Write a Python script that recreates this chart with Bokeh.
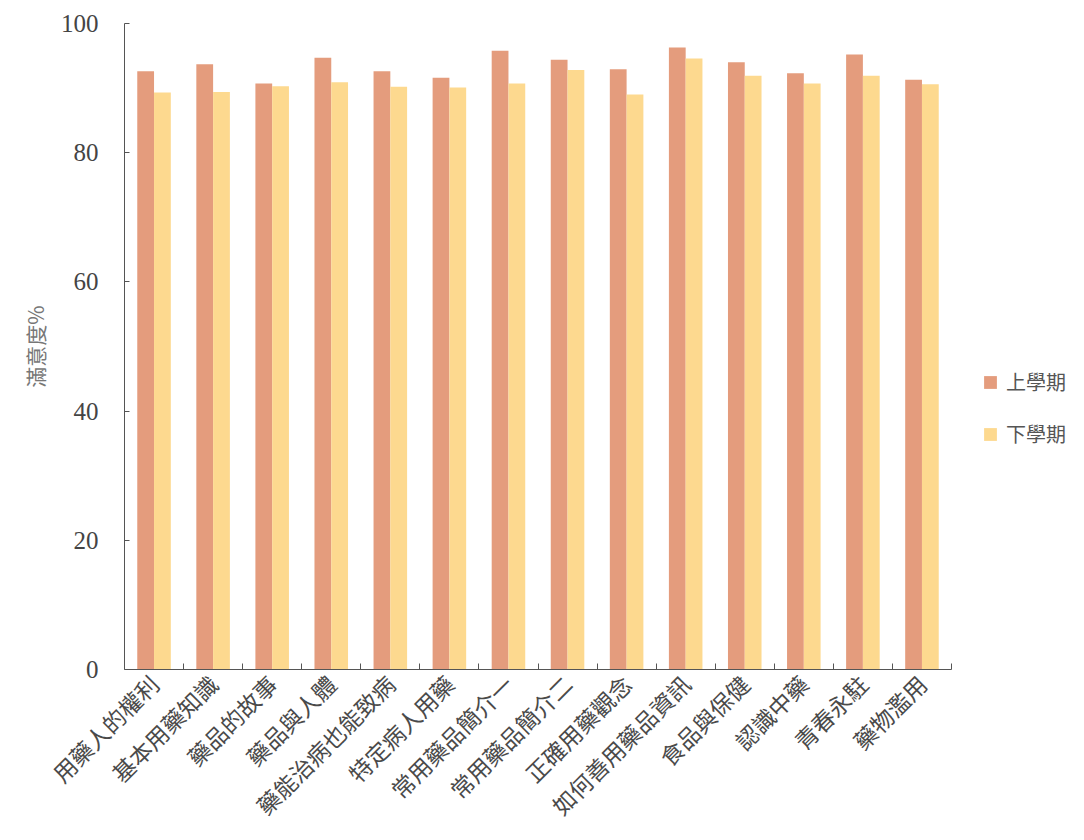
import math
from bokeh.plotting import figure
from bokeh.models import ColumnDataSource, FixedTicker, Legend, LegendItem, Range1d
from bokeh.transform import dodge
from bokeh.embed import file_html
from bokeh.resources import INLINE

categories = ["用藥人的權利", "基本用藥知識", "藥品的故事", "藥品與人體", "藥能治病也能致病",
              "特定病人用藥", "常用藥品簡介一", "常用藥品簡介二", "正確用藥觀念",
              "如何善用藥品資訊", "食品與保健", "認識中藥", "青春永駐", "藥物濫用"]
first_term = [92.6, 93.7, 90.7, 94.7, 92.6, 91.6, 95.8, 94.4, 92.9, 96.3, 94.0, 92.3, 95.2, 91.3]
second_term = [89.3, 89.4, 90.3, 90.9, 90.2, 90.1, 90.7, 92.8, 89.0, 94.6, 91.9, 90.7, 91.9, 90.6]
series_names = ["上學期", "下學期"]
y_ticks = [0, 20, 40, 60, 80, 100]

idx = list(range(len(categories)))
src = ColumnDataSource(dict(x=idx, cat=categories, a=first_term, b=second_term))

ORANGE = "#E49C7D"
YELLOW = "#FDD98F"
AXIS = "#555555"

p = figure(frame_width=827, frame_height=646,
           x_range=Range1d(-0.5, len(categories) - 0.5),
           y_range=Range1d(0, 100),
           output_backend="svg", toolbar_location=None,
           min_border_left=124, min_border_right=120,
           min_border_top=23, min_border_bottom=150)
p.outline_line_color = None
p.xgrid.grid_line_color = None
p.ygrid.grid_line_color = None
p.background_fill_color = "white"
p.border_fill_color = "white"

r1 = p.vbar(x=dodge("x", -0.142), top="a", width=0.284, source=src,
            fill_color=ORANGE, line_color=None)
r2 = p.vbar(x=dodge("x", 0.142), top="b", width=0.284, source=src,
            fill_color=YELLOW, line_color=None)

# x axis
xa = p.xaxis[0]
xa.ticker = FixedTicker(ticks=idx, minor_ticks=[i + 0.5 for i in idx])
xa.major_label_overrides = {i: c for i, c in zip(idx, categories)}
xa.major_label_orientation = math.pi / 4
xa.major_tick_in = 0
xa.major_tick_out = 0
xa.minor_tick_in = 6
xa.minor_tick_out = 0
xa.minor_tick_line_color = AXIS
xa.axis_line_color = AXIS
xa.major_label_text_font = "Noto Sans CJK TC"
xa.major_label_text_font_size = "23px"
xa.major_label_text_color = "#4a4a4a"
xa.major_label_standoff = 10

# y axis
ya = p.yaxis[0]
ya.ticker = FixedTicker(ticks=y_ticks)
ya.minor_tick_line_color = None
ya.major_tick_in = 5
ya.major_tick_out = 0
ya.major_tick_line_color = AXIS
ya.axis_line_color = AXIS
ya.major_label_text_font = "Liberation Serif"
ya.major_label_text_font_size = "25px"
ya.major_label_text_color = "#444444"
ya.major_label_standoff = 26
ya.axis_label = "滿意度%"
ya.axis_label_text_font = "Noto Sans CJK TC"
ya.axis_label_text_font_size = "21px"
ya.axis_label_text_font_style = "normal"
ya.axis_label_text_color = "#777777"
ya.axis_label_standoff = 8

legend = Legend(items=[LegendItem(label=series_names[0], renderers=[r1]),
                       LegendItem(label=series_names[1], renderers=[r2])],
                location=(31, 221), orientation="vertical",
                border_line_color=None, background_fill_alpha=0,
                padding=0, margin=0, spacing=23,
                glyph_width=16, glyph_height=16, label_height=16,
                label_standoff=8,
                label_text_font="Noto Sans CJK TC", label_text_font_size="20px",
                label_text_color="#555555")
p.add_layout(legend, "right")

open("out.html", "w").write(file_html(p, INLINE))
